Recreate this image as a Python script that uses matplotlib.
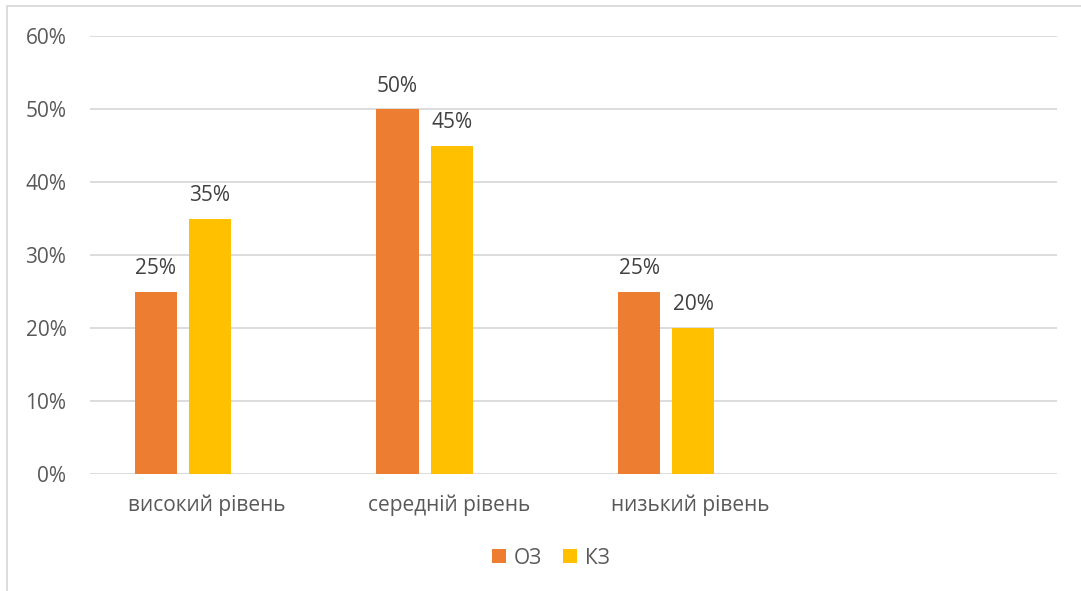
import matplotlib
matplotlib.use("Agg")
import matplotlib.pyplot as plt
from matplotlib.patches import Rectangle
from matplotlib.ticker import PercentFormatter, MultipleLocator
from matplotlib.transforms import ScaledTranslation
import numpy as np

plt.rcParams['font.family'] = ['Open Sans', 'DejaVu Sans']

categories = ["високий рівень", "середній рівень", "низький рівень", ""]
series_names = ["ОЗ", "КЗ"]
oz_values = [0.25, 0.50, 0.25, None]
kz_values = [0.35, 0.45, 0.20, None]
colors = ["#ED7D31", "#FFC000"]

fig = plt.figure(figsize=(10.81, 5.91), dpi=100)
ax = fig.add_axes([90/1081, 1-474/591, (1057-90)/1081, (474-36)/591])

x = np.arange(len(categories))
width = 0.174
offsets = [-0.228, -0.004]
for vals, off, col, name in zip([oz_values, kz_values], offsets, colors, series_names):
    xs = [xi + off for xi, v in zip(x, vals) if v is not None]
    ys = [v for v in vals if v is not None]
    bars = ax.bar(xs, ys, width=width, color=col, label=name, zorder=3)
    for b, v in zip(bars, ys):
        ax.annotate(f"{v*100:.0f}%", (b.get_x() + b.get_width()/2, v),
                    xytext=(0, 9), textcoords="offset points",
                    ha="center", va="bottom", fontsize=15, color="#404040")

ax.set_xlim(-0.5, len(categories) - 0.5)
ax.set_ylim(0, 0.6)
ax.yaxis.set_major_locator(MultipleLocator(0.1))
ax.yaxis.set_major_formatter(PercentFormatter(1.0, decimals=0))
ax.set_xticks(x)
ax.set_xticklabels(categories)
ax.tick_params(axis="both", length=0, labelsize=15, labelcolor="#595959")
ax.tick_params(axis="x", pad=15)
ax.tick_params(axis="y", pad=17)
shift = ScaledTranslation(-4/100, 0, fig.dpi_scale_trans)
for lbl in ax.get_xticklabels():
    lbl.set_transform(lbl.get_transform() + shift)
ax.grid(axis="y", color="#D9D9D9", linewidth=1.3, zorder=0)
for s in ax.spines.values():
    s.set_visible(False)

leg = fig.legend(loc="center", bbox_to_anchor=(551/1081, 1-558/591), ncol=2,
                 frameon=False, fontsize=15, handlelength=0.65, handleheight=0.65,
                 handletextpad=0.4, columnspacing=1.0, labelcolor="#595959")

fig.patches.append(Rectangle((7/1081, -0.1), 1.2, 1.1 - 6.5/591, transform=fig.transFigure,
                             fill=False, edgecolor="#D9D9D9", linewidth=1.3))

fig.savefig("out.png", dpi=100)
